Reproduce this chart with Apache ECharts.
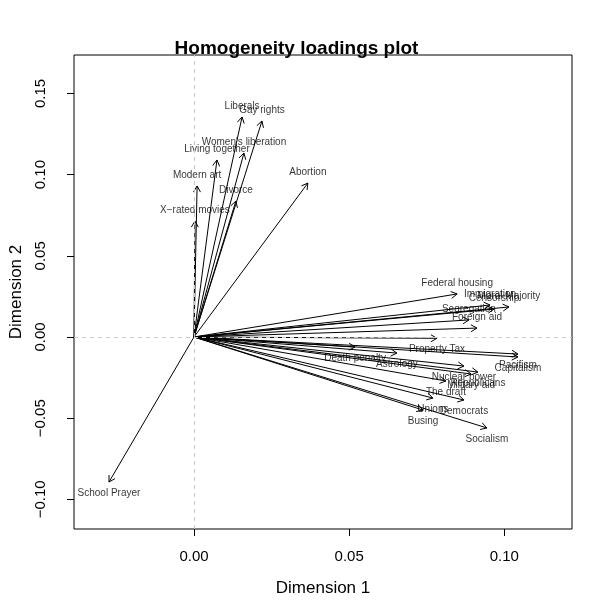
<!DOCTYPE html>
<html>
<head>
<meta charset="utf-8">
<script src="https://cdn.jsdelivr.net/npm/echarts@6/dist/echarts.min.js"></script>
<style>
    html, body { margin: 0; padding: 0; background: #fff; }
    #chart { width: 593px; height: 603px; }
</style>
</head>
<body>
<div id="chart"></div>
<script>
    // item loadings
    var items = ['Abortion', 'Astrology', 'Busing', 'Capitalism', 'Censorship', 'Death penalty',
        'Democrats', 'Divorce', 'Federal housing', 'Foreign aid', 'Gay rights', 'Immigration',
        'Liberals', 'Living together', 'Military aid', 'Modern art', 'Moral Majority', 'Nuclear power',
        'Pacifism', 'Property Tax', 'Republicans', 'School Prayer', 'Segregation', 'Socialism',
        'The draft', 'Unions', "Women's liberation", 'X\u2212rated movies'];
    var dim1 = [0.0367, 0.0654, 0.0738, 0.1044, 0.0967, 0.0519,
        0.0870, 0.0135, 0.0848, 0.0912, 0.0219, 0.0954,
        0.0155, 0.0074, 0.0893, 0.0010, 0.1015, 0.0870,
        0.1044, 0.0783, 0.0915, -0.0274, 0.0886, 0.0944,
        0.0812, 0.0770, 0.0161, 0.0003];
    var dim2 = [0.0948, -0.0099, -0.0450, -0.0123, 0.0172, -0.0062,
        -0.0388, 0.0837, 0.0265, 0.0055, 0.1330, 0.0197,
        0.1355, 0.1090, -0.0228, 0.0930, 0.0185, -0.0179,
        -0.0105, -0.0008, -0.0216, -0.0893, 0.0105, -0.0560,
        -0.0271, -0.0376, 0.1133, 0.0714];
    var xTicks = [0, 0.05, 0.1];
    var yTicks = [-0.1, -0.05, 0, 0.05, 0.1, 0.15];

    var font = '"Liberation Sans", Helvetica, Arial, sans-serif';

    function fmt(v) {
        return v.toFixed(2).replace('-', '\u2212');
    }

    var pts = items.map(function (name, i) {
        return {
            name: name,
            value: [dim1[i], dim2[i]],
            label: { position: dim2[i] >= 0 ? 'top' : 'bottom' }
        };
    });

    function renderArrow(params, api) {
        var p0 = api.coord([0, 0]);
        var p1 = api.coord([api.value(0), api.value(1)]);
        var ang = Math.atan2(p1[1] - p0[1], p1[0] - p0[0]);
        var len = 7, spread = Math.PI / 6;
        var a = [p1[0] - len * Math.cos(ang - spread), p1[1] - len * Math.sin(ang - spread)];
        var b = [p1[0] - len * Math.cos(ang + spread), p1[1] - len * Math.sin(ang + spread)];
        var st = { stroke: '#000', lineWidth: 1, fill: null };
        return {
            type: 'group',
            children: [
                { type: 'line', shape: { x1: p0[0], y1: p0[1], x2: p1[0], y2: p1[1] }, style: st },
                { type: 'polyline', shape: { points: [a, p1, b] }, style: st }
            ]
        };
    }

    var chart = echarts.init(document.getElementById('chart'));
    chart.setOption({
        animation: false,
        backgroundColor: '#fff',
        title: {
            text: 'Homogeneity loadings plot',
            left: 'center',
            top: 34,
            textStyle: { fontFamily: font, fontSize: 19, fontWeight: 'bold', color: '#000' }
        },
        grid: {
            left: 74, right: 21, top: 55, bottom: 74,
            show: true, borderColor: '#000', borderWidth: 1, backgroundColor: 'transparent'
        },
        xAxis: {
            type: 'value',
            min: -0.03867, max: 0.12182,
            name: 'Dimension 1',
            nameLocation: 'middle',
            nameGap: 51,
            nameTextStyle: { fontFamily: font, fontSize: 17, color: '#000' },
            axisLine: { show: false, onZero: false },
            splitLine: { show: false },
            axisTick: { show: true, length: 7, customValues: xTicks, lineStyle: { color: '#000' } },
            axisLabel: { customValues: xTicks, margin: 20, formatter: fmt,
                fontFamily: font, fontSize: 15, color: '#000' }
        },
        yAxis: {
            type: 'value',
            min: -0.11823, max: 0.17365,
            name: 'Dimension 2',
            nameLocation: 'middle',
            nameGap: 45,
            nameTextStyle: { fontFamily: font, fontSize: 17, color: '#000' },
            axisLine: { show: false, onZero: false },
            splitLine: { show: false },
            axisTick: { show: true, length: 7, customValues: yTicks, lineStyle: { color: '#000' } },
            axisLabel: { customValues: yTicks, rotate: 90, margin: 26, formatter: fmt,
                fontFamily: font, fontSize: 15, color: '#000' }
        },
        series: [
            {
                type: 'scatter',
                data: [],
                silent: true,
                markLine: {
                    silent: true,
                    symbol: 'none',
                    label: { show: false },
                    lineStyle: { color: '#c8c8c8', type: [4, 4], width: 1 },
                    data: [{ xAxis: 0 }, { yAxis: 0 }]
                }
            },
            {
                type: 'custom',
                renderItem: renderArrow,
                data: pts.map(function (p) { return p.value; }),
                silent: true
            },
            {
                type: 'scatter',
                symbolSize: 0,
                data: pts,
                silent: true,
                label: {
                    show: true,
                    distance: 6,
                    formatter: '{b}',
                    fontFamily: font,
                    fontSize: 10,
                    color: '#000'
                }
            }
        ]
    });
</script>
</body>
</html>
